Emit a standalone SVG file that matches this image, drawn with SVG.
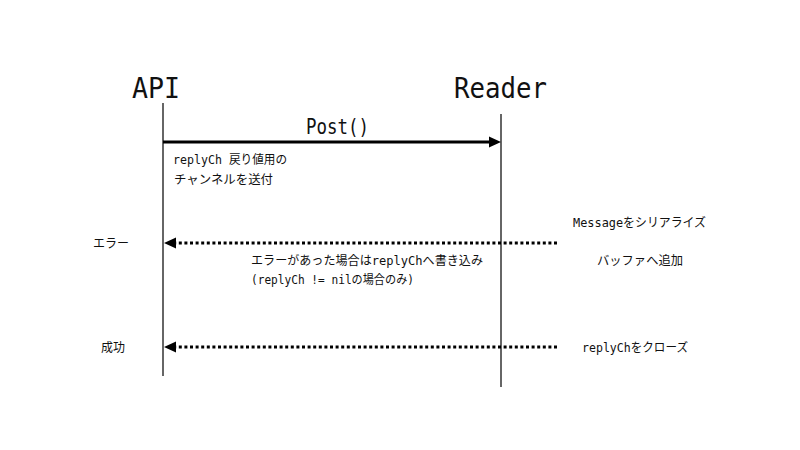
<svg xmlns="http://www.w3.org/2000/svg" width="800" height="450" viewBox="0 0 800 450">
<style>
.title{font-family:"DejaVu Sans Mono","Noto Sans CJK JP",monospace;font-size:28px;fill:#111}
.lbl{font-family:"DejaVu Sans Mono","Noto Sans CJK JP",monospace;font-size:12.5px;fill:#111}
.post{font-family:"DejaVu Sans Mono","Noto Sans CJK JP",monospace;font-size:22px;fill:#111}
.life{stroke:#333;stroke-width:1.5;fill:none}
.solid{stroke:#000;stroke-width:3;fill:none}
.dot{stroke:#000;stroke-width:3;stroke-dasharray:3 2.6;fill:none}
</style>
<rect width="800" height="450" fill="#fff"/>
<g id="api">
<text class="title" x="132" y="98" textLength="48" lengthAdjust="spacingAndGlyphs">API</text>
<line class="life" x1="163" y1="103" x2="163" y2="376"/>
</g>
<g id="reader">
<text class="title" x="454" y="98" textLength="93" lengthAdjust="spacingAndGlyphs">Reader</text>
<line class="life" x1="501" y1="114" x2="501" y2="387"/>
</g>
<g id="connectors">
<line class="solid" x1="163" y1="142" x2="490" y2="142"/>
<polygon points="501,142 489,136.5 489,147.5" fill="#000"/>
<line class="dot" x1="557" y1="243" x2="176" y2="243"/>
<polygon points="164,243 176,237.5 176,248.5" fill="#000"/>
<line class="dot" x1="557" y1="347" x2="176" y2="347"/>
<polygon points="164,347 176,341.5 176,352.5" fill="#000"/>
</g>
<g id="labels">
<text class="post" x="306" y="134" textLength="63" lengthAdjust="spacingAndGlyphs">Post()</text>
<text class="lbl" x="173" y="164" textLength="114" lengthAdjust="spacingAndGlyphs">replyCh 戻り値用の</text>
<text class="lbl" x="174" y="184" textLength="99" lengthAdjust="spacingAndGlyphs">チャンネルを送付</text>
<text class="lbl" x="573" y="227" textLength="133" lengthAdjust="spacingAndGlyphs">Messageをシリアライズ</text>
<text class="lbl" x="93" y="248" textLength="36" lengthAdjust="spacingAndGlyphs">エラー</text>
<text class="lbl" x="251" y="265" textLength="232" lengthAdjust="spacingAndGlyphs">エラーがあった場合はreplyChへ書き込み</text>
<text class="lbl" x="251" y="284" textLength="163" lengthAdjust="spacingAndGlyphs">(replyCh != nilの場合のみ)</text>
<text class="lbl" x="597" y="265" textLength="86" lengthAdjust="spacingAndGlyphs">バッファへ追加</text>
<text class="lbl" x="101" y="352" textLength="24" lengthAdjust="spacingAndGlyphs">成功</text>
<text class="lbl" x="582" y="352" textLength="106" lengthAdjust="spacingAndGlyphs">replyChをクローズ</text>
</g>
</svg>
